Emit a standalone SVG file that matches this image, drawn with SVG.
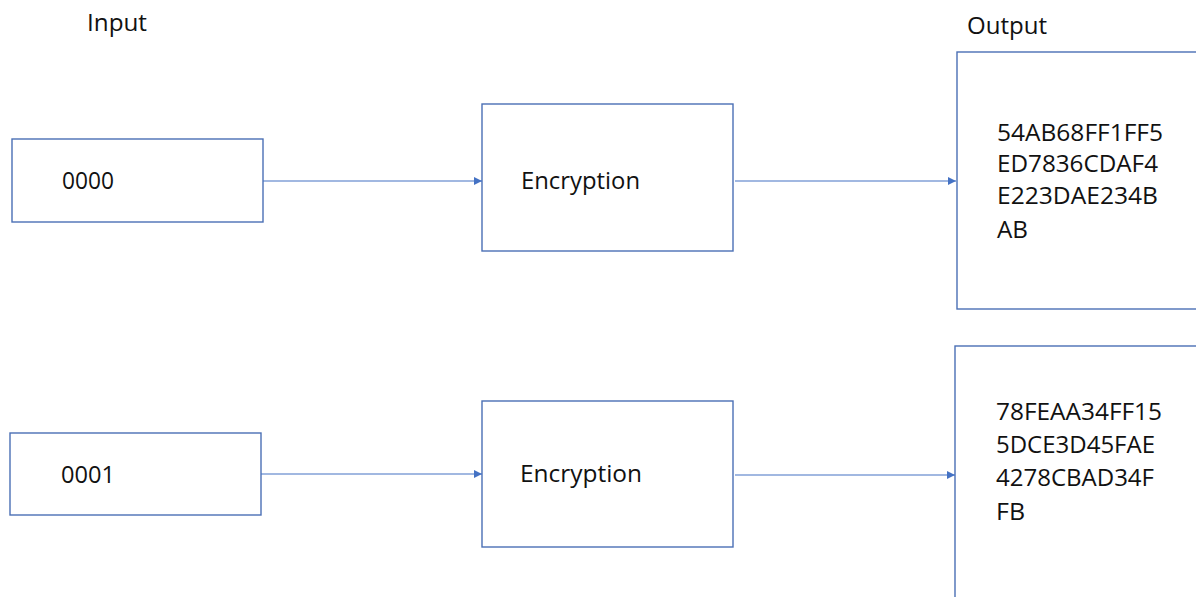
<svg xmlns="http://www.w3.org/2000/svg" width="1196" height="597" viewBox="0 0 1196 597">
  <defs>
    <style>
      .box { fill: #ffffff; stroke: #4a6fb5; stroke-width: 1.4; }
      .conn { stroke: #4472c4; stroke-width: 1.2; fill: none; }
      .t { font-family: "Open Sans", "Noto Sans", "DejaVu Sans", sans-serif; font-size: 23px; fill: #111111; }
    </style>
    <marker id="arrow" viewBox="0 0 10 10" refX="10" refY="5" markerWidth="9" markerHeight="8" markerUnits="userSpaceOnUse" orient="auto">
      <path d="M0,0 L10,5 L0,10 Z" fill="#4472c4"/>
    </marker>
  </defs>
  <rect width="1196" height="597" fill="#ffffff"/>

  <g id="labels">
    <text class="t" x="87" y="31" textLength="60" lengthAdjust="spacingAndGlyphs">Input</text>
    <text class="t" x="967" y="34" textLength="80" lengthAdjust="spacingAndGlyphs">Output</text>
  </g>

  <g id="input1">
    <rect class="box" x="12" y="139" width="251" height="83"/>
    <text class="t" x="62" y="189" textLength="52" lengthAdjust="spacingAndGlyphs">0000</text>
  </g>
  <g id="encrypt1">
    <rect class="box" x="482" y="104" width="251" height="147"/>
    <text class="t" x="521" y="189" textLength="119" lengthAdjust="spacingAndGlyphs">Encryption</text>
  </g>
  <g id="output1">
    <rect class="box" x="957" y="52" width="260" height="257"/>
    <text class="t" x="997" y="141" textLength="166" lengthAdjust="spacingAndGlyphs">54AB68FF1FF5</text>
    <text class="t" x="997" y="172" textLength="161" lengthAdjust="spacingAndGlyphs">ED7836CDAF4</text>
    <text class="t" x="997" y="204" textLength="161" lengthAdjust="spacingAndGlyphs">E223DAE234B</text>
    <text class="t" x="997" y="238" textLength="31" lengthAdjust="spacingAndGlyphs">AB</text>
  </g>

  <g id="input2">
    <rect class="box" x="10" y="433" width="251" height="82"/>
    <text class="t" x="61" y="483" textLength="54" lengthAdjust="spacingAndGlyphs">0001</text>
  </g>
  <g id="encrypt2">
    <rect class="box" x="482" y="401" width="251" height="146"/>
    <text class="t" x="520" y="482" textLength="122" lengthAdjust="spacingAndGlyphs">Encryption</text>
  </g>
  <g id="output2">
    <rect class="box" x="955" y="346" width="260" height="280"/>
    <text class="t" x="996" y="420" textLength="166" lengthAdjust="spacingAndGlyphs">78FEAA34FF15</text>
    <text class="t" x="996" y="453" textLength="159" lengthAdjust="spacingAndGlyphs">5DCE3D45FAE</text>
    <text class="t" x="996" y="486" textLength="158" lengthAdjust="spacingAndGlyphs">4278CBAD34F</text>
    <text class="t" x="996" y="520" textLength="29" lengthAdjust="spacingAndGlyphs">FB</text>
  </g>

  <g id="connectors">
    <line class="conn" x1="263" y1="181" x2="482" y2="181" marker-end="url(#arrow)"/>
    <line class="conn" x1="735" y1="181" x2="956" y2="181" marker-end="url(#arrow)"/>
    <line class="conn" x1="261" y1="474" x2="482" y2="474" marker-end="url(#arrow)"/>
    <line class="conn" x1="735" y1="475" x2="955" y2="475" marker-end="url(#arrow)"/>
  </g>
</svg>
